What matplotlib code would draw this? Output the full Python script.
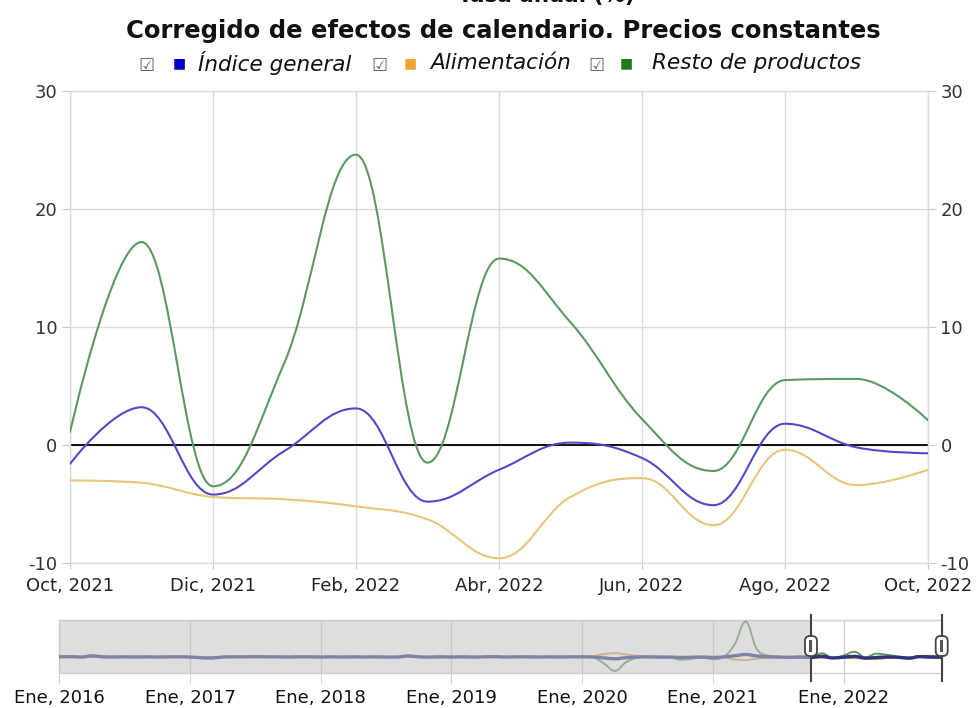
import numpy as np
import matplotlib
matplotlib.use('Agg')
import matplotlib.pyplot as plt
from matplotlib.path import Path
from matplotlib.patches import PathPatch, FancyBboxPatch, Rectangle
from matplotlib.transforms import IdentityTransform, blended_transform_factory

# Main view: Oct 2021 - Oct 2022
months = ['Oct, 2021', 'Nov, 2021', 'Dic, 2021', 'Ene, 2022', 'Feb, 2022', 'Mar, 2022',
          'Abr, 2022', 'May, 2022', 'Jun, 2022', 'Jul, 2022', 'Ago, 2022', 'Sep, 2022', 'Oct, 2022']
general = [-1.6, 3.2, -4.2, -0.5, 3.1, -4.8, -2.1, 0.2, -1.1, -5.1, 1.8, -0.2, -0.7]
alimentacion = [-3.0, -3.2, -4.4, -4.6, -5.2, -6.3, -9.6, -4.4, -2.8, -6.8, -0.4, -3.4, -2.1]
resto = [1.1, 17.2, -3.5, 7.0, 24.6, -1.5, 15.8, 10.4, 2.2, -2.2, 5.5, 5.6, 2.1]

# Navigator history: Ene 2016 - Sep 2021
hist_general = [1, 2, 0, 5, 1, 0, 1, 0, 1, 0, 1, 1,
                0, -3, -4, 0, 1, 1, 2, 1, 1, 0, 1, 1,
                0, 1, 0, 1, 0, 1, 0, 0, 5, 1, 0, 1,
                0, 1, 0, 1, 2, 0, 1, 1, 0, 1, 0, 1,
                1, 0, -4, -8, -3, 0, 1, 0, 0, -2, -1, 0,
                -2, 1, 6, 12, 5, 1, 0, -1, 0]
hist_alimentacion = [0, 1, 0, 3, 0, 0, 1, 0, 0, 1, 0, 0,
                     0, -2, -3, 0, 0, 1, 1, 0, 1, 0, 0, 1,
                     0, 0, 1, 0, 0, 1, 0, 0, 3, 0, 0, 1,
                     0, 0, 1, 0, 1, 0, 0, 1, 0, 0, 1, 0,
                     1, 4, 14, 18, 12, 6, 2, 1, 0, 1, 0, 1,
                     0, -2, -12, -14, -8, -3, -1, -2, -3]
hist_resto = [2, 3, 1, 8, 2, 1, 2, 1, 1, 0, 1, 2,
              0, -5, -6, 1, 2, 1, 3, 2, 1, 0, 2, 1,
              1, 1, 0, 2, 0, 1, 0, 1, 7, 1, 0, 2,
              0, 2, -1, 1, 3, 1, 0, 2, 1, 0, 1, 2,
              1, -2, -30, -65, -25, -4, 0, -2, -1, -12, -8, -2,
              -10, 2, 60, 165, 40, 8, 3, 0, 2]
nav_years = ['Ene, 2016', 'Ene, 2017', 'Ene, 2018', 'Ene, 2019', 'Ene, 2020', 'Ene, 2021', 'Ene, 2022']

c_blue = '#5548c8'
c_orange = '#e9c47c'
c_green = '#5a9a5e'


def spline_path(xs, ys, smoothing=1.5):
    # Highcharts-style spline as cubic Bezier segments
    n = len(xs)
    left = [(xs[i], ys[i]) for i in range(n)]
    right = [(xs[i], ys[i]) for i in range(n)]
    d = smoothing + 1
    for i in range(1, n - 1):
        px, py = xs[i], ys[i]
        lx, ly = xs[i - 1], ys[i - 1]
        nx, ny = xs[i + 1], ys[i + 1]
        lcx = (smoothing * px + lx) / d
        lcy = (smoothing * py + ly) / d
        rcx = (smoothing * px + nx) / d
        rcy = (smoothing * py + ny) / d
        corr = (rcy - lcy) * (rcx - px) / (rcx - lcx) + py - rcy
        lcy += corr
        rcy += corr
        if lcy > ly and lcy > py:
            lcy = max(ly, py)
            rcy = 2 * py - lcy
        elif lcy < ly and lcy < py:
            lcy = min(ly, py)
            rcy = 2 * py - lcy
        if rcy > ny and rcy > py:
            rcy = max(ny, py)
            lcy = 2 * py - rcy
        elif rcy < ny and rcy < py:
            rcy = min(ny, py)
            lcy = 2 * py - rcy
        left[i] = (lcx, lcy)
        right[i] = (rcx, rcy)
    verts = [(xs[0], ys[0])]
    codes = [Path.MOVETO]
    for i in range(1, n):
        verts += [right[i - 1], left[i], (xs[i], ys[i])]
        codes += [Path.CURVE4] * 3
    return Path(verts, codes)


def add_spline(ax, ys, color, lw, zorder=3, alpha=1.0):
    xs = list(range(len(ys)))
    patch = PathPatch(spline_path(xs, ys), facecolor='none', edgecolor=color,
                      lw=lw, zorder=zorder, alpha=alpha, capstyle='round', joinstyle='round')
    ax.add_patch(patch)


W, H = 976, 708
plt.rcParams['font.family'] = ['DejaVu Sans']
plt.rcParams['axes.unicode_minus'] = False
fig = plt.figure(figsize=(W / 100, H / 100), dpi=100)

# Titles (top line is cut off at the edge, as in the source)
fig.text(546 / W, 1 - 2 / H, 'Tasa anual (%)', ha='center', va='baseline',
         fontsize=15.5, fontweight='bold', color='#111')
fig.text(503 / W, 1 - 38 / H, 'Corregido de efectos de calendario. Precios constantes',
         ha='center', va='baseline', fontsize=17.5, fontweight='bold', color='#111')

# Legend
legend_items = [('Índice general', '#0000cc', 146, 179, 198),
                ('Alimentación', '#f0a530', 379, 410, 430),
                ('Resto de productos', '#1f7a1f', 596, 626, 652)]
for label, col, xcb, xsq, xtx in legend_items:
    fig.text(xcb / W, 1 - 66 / H, '☑', ha='center', va='center', fontsize=13, color='#666')
    fig.text(xsq / W, 1 - 63 / H, '■', ha='center', va='center', fontsize=10, color=col)
    fig.text(xtx / W, 1 - 63 / H, label, ha='left', va='center', fontsize=15.5,
             style='italic', color='#111')

# Main chart
ax = fig.add_axes([70 / W, 1 - 563 / H, (928 - 70) / W, (563 - 91) / H])
add_spline(ax, resto, c_green, 1.5)
add_spline(ax, general, c_blue, 1.5)
add_spline(ax, alimentacion, c_orange, 1.5)
ax.set_xlim(0, len(months) - 1)
ax.set_ylim(-10, 30)
ax.set_yticks([-10, 0, 10, 20, 30])
ax.set_xticks(range(0, len(months), 2))
ax.set_xticklabels(months[::2])
ax.grid(True, color='#dadada', lw=1)
ax.axhline(0, color='black', lw=1.3, zorder=2)
for s in ax.spines.values():
    s.set_color('#dadada')
    s.set_linewidth(1)
ax.tick_params(axis='y', which='both', left=True, right=True, labelleft=True, labelright=True,
               length=6, color='#c8c8c8', labelsize=13, labelcolor='#333', pad=3)
ax.tick_params(axis='x', length=4, color='#c8c8c8', labelsize=13, labelcolor='#222', pad=6)

# Navigator
nav = fig.add_axes([59.3 / W, 1 - 672.7 / H, (941.7 - 59.3) / W, (672.7 - 620) / H])
full_general = hist_general + general
full_alim = hist_alimentacion + alimentacion
full_resto = hist_resto + resto
n_all = len(full_general)
sel0 = len(hist_general)
add_spline(nav, full_resto, c_green, 1.4, zorder=3)
add_spline(nav, full_alim, '#d9a050', 1.4, zorder=3)
add_spline(nav, full_general, '#2e3380', 2.4, zorder=4)
nav.set_xlim(0, n_all - 1)
nav.set_ylim(-73, 173)
nav.set_yticks([])
nav.set_xticks(range(0, n_all, 12))
nav.set_xticklabels(nav_years)
nav.grid(True, axis='x', color='#cfcfcf', lw=1)
nav.set_axisbelow(True)
nav.tick_params(axis='x', length=7, color='#cfcfcf', labelsize=13, labelcolor='#111', pad=5)
for s in nav.spines.values():
    s.set_color('#d0d0d0')
    s.set_linewidth(1)
nav.add_patch(Rectangle((0, -73), sel0, 246, facecolor='#c4c4c4', alpha=0.55,
                        edgecolor='none', zorder=5))

# Navigator handles
trans = blended_transform_factory(nav.transData, nav.transAxes)
for hx in [sel0, n_all - 1]:
    nav.plot([hx, hx], [-0.15, 1.1], transform=trans, color='#444', lw=1.5,
             clip_on=False, zorder=6)
    px = nav.transData.transform((hx, 0))[0]
    py = H - 646
    nav.add_artist(FancyBboxPatch((px - 4, py - 8), 8, 16,
                                  boxstyle='round,pad=2,rounding_size=5',
                                  transform=IdentityTransform(), facecolor='white',
                                  edgecolor='#444', lw=1.3, zorder=7, clip_on=False))
    nav.add_artist(Rectangle((px - 1.5, py - 6), 3, 12, transform=IdentityTransform(),
                             facecolor='#555', edgecolor='none', zorder=8, clip_on=False))

fig.savefig('out.png', dpi=100)
